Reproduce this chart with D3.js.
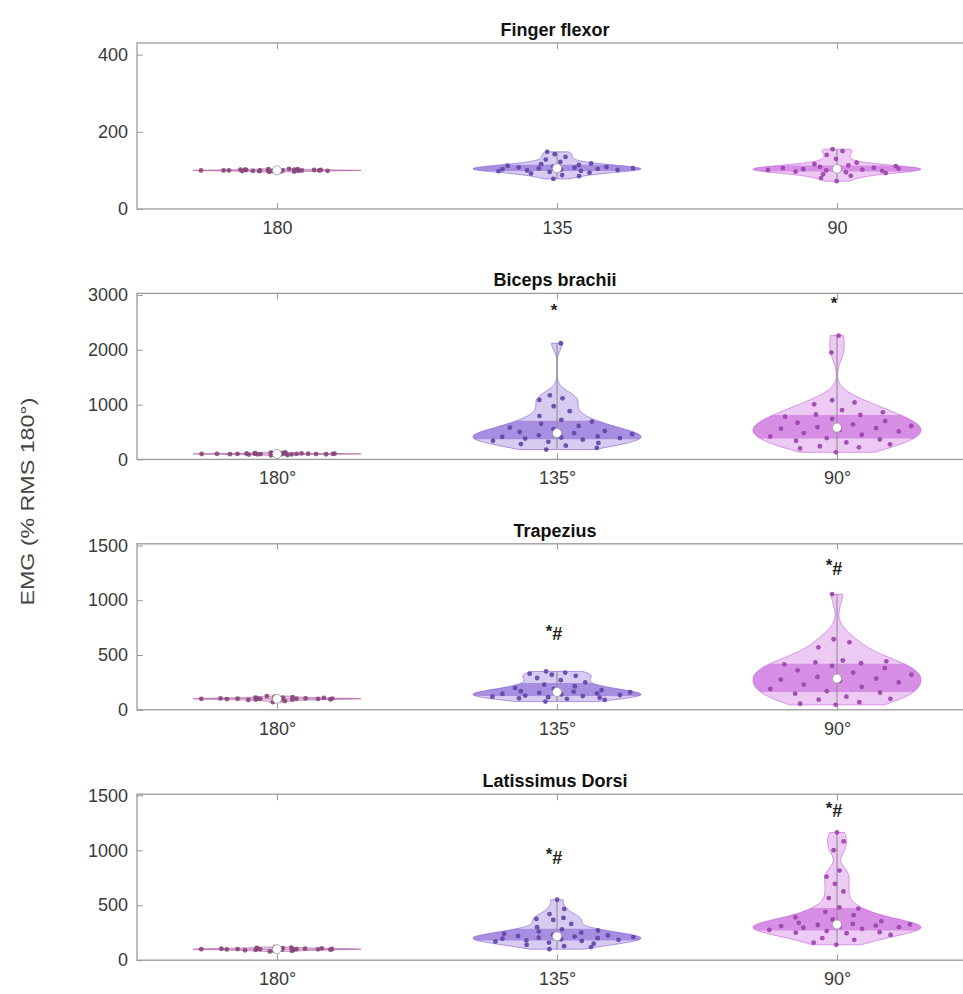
<!DOCTYPE html>
<html><head><meta charset="utf-8">
<script src="https://cdn.jsdelivr.net/npm/d3@7/dist/d3.min.js"></script>
<style>
 body{margin:0;background:#fff;}
 text{font-family:"Liberation Sans",Arial,Helvetica,sans-serif;}
</style></head>
<body><svg id="chart" width="963" height="994"></svg>
<script>
// ---------------- DATA ----------------
const categories = ["180", "135", "90"];
const panelTitles = ["Finger flexor", "Biceps brachii", "Trapezius", "Latissimus Dorsi"];
const xTickLabels = [["180", "135", "90"], ["180°", "135°", "90°"], ["180°", "135°", "90°"], ["180°", "135°", "90°"]];
const yMax = [430, 3030, 1515, 1510];
const yTicks = [[0, 200, 400], [0, 1000, 2000, 3000], [0, 500, 1000, 1500], [0, 500, 1000, 1500]];
const yLabel = "EMG (% RMS 180°)";

const finger180 = [96, 97, 98, 98, 99, 99, 99, 100, 100, 100, 100, 100, 100, 101, 101, 101, 102, 102, 103, 104, 97, 100, 101, 99, 102, 100, 98, 103];
const finger135 = [78, 85, 88, 92, 94, 96, 98, 99, 100, 101, 102, 103, 104, 105, 106, 107, 108, 109, 110, 112, 114, 116, 118, 122, 128, 135, 142, 148];
const finger90  = [72, 80, 86, 90, 93, 95, 97, 99, 100, 101, 102, 103, 104, 105, 106, 107, 109, 111, 113, 116, 120, 130, 140, 150, 155];

const biceps180 = [75, 80, 85, 88, 90, 92, 94, 95, 96, 97, 98, 99, 100, 100, 100, 101, 102, 103, 104, 105, 106, 108, 110, 112, 115, 120, 125, 130];
const biceps135 = [180, 210, 250, 280, 300, 320, 340, 360, 380, 390, 400, 410, 420, 440, 460, 480, 500, 520, 550, 580, 610, 650, 690, 720, 790, 880, 970, 1085, 1115, 1170, 2120];
const biceps90  = [130, 200, 220, 240, 275, 310, 340, 365, 390, 420, 450, 480, 510, 540, 560, 570, 590, 610, 640, 670, 700, 740, 780, 810, 820, 860, 900, 1005, 1040, 1080, 1950, 2260];

const trap180 = [70, 80, 85, 90, 92, 94, 96, 97, 98, 99, 100, 100, 100, 101, 102, 103, 104, 105, 106, 108, 110, 112, 115, 120, 125];
const trap135 = [75, 90, 100, 105, 110, 115, 120, 125, 130, 135, 140, 145, 150, 155, 160, 165, 170, 180, 190, 200, 215, 230, 250, 270, 290, 310, 320, 330, 340, 350];
const trap90  = [45, 55, 70, 92, 100, 120, 147, 156, 170, 190, 210, 230, 250, 265, 276, 285, 300, 320, 340, 360, 380, 400, 415, 425, 432, 442, 450, 570, 616, 644, 1055];

const lat180 = [80, 85, 88, 90, 92, 94, 96, 97, 98, 99, 100, 100, 100, 101, 102, 103, 104, 105, 106, 108, 110, 112, 115, 120];
const lat135 = [100, 119, 128, 140, 150, 160, 170, 175, 180, 185, 190, 195, 200, 205, 210, 215, 220, 225, 230, 240, 250, 260, 270, 280, 300, 330, 366, 375, 385, 420, 466, 550];
const lat90  = [140, 160, 185, 200, 230, 245, 250, 255, 265, 275, 285, 295, 300, 305, 310, 315, 320, 325, 330, 340, 355, 370, 390, 410, 440, 470, 480, 565, 625, 695, 760, 815, 1000, 1080, 1162];

const panelData = [
  [finger180, finger135, finger90],
  [biceps180, biceps135, biceps90],
  [trap180, trap135, trap90],
  [lat180, lat135, lat90]
];

// significance annotations: [panel][category] text and the value where they sit
const annotText  = [["", "", ""], ["", "*", "*"], ["", "*#", "*#"], ["", "*#", "*#"]];
const annotValue = [[0, 0, 0], [0, 2650, 2780], [0, 680, 1280], [0, 925, 1345]];

// ---------------- STYLE / LAYOUT ----------------
const colors = ["#a8559a", "#7a52cf", "#c151d8"];
const axLeft = 137, axRight = 977, axH = 166, axTop0 = 43, axStep = 250.4;
const halfWidth = 0.3;

const svg = d3.select("#chart");
const x = d3.scaleLinear().domain([0.5, 3.5]).range([axLeft, axRight]);

function gauss(u){ return Math.exp(-0.5*u*u)/Math.sqrt(2*Math.PI); }
function kdeAt(vals, bw, y){ return d3.mean(vals, v => gauss((y - v)/bw))/bw; }

panelData.forEach((groups, p) => {
  const top = axTop0 + p*axStep, bottom = top + axH;
  const y = d3.scaleLinear().domain([0, yMax[p]]).range([bottom, top]);
  const g = svg.append("g");

  g.append("rect").attr("x", axLeft).attr("y", top).attr("width", axRight - axLeft).attr("height", axH)
    .attr("fill", "none").attr("stroke", "#9a9a9a").attr("stroke-width", 1.3);

  const yAx = g.append("g").attr("transform", `translate(${axLeft},0)`)
    .call(d3.axisLeft(y).tickValues(yTicks[p]).tickSize(-6).tickPadding(9).tickFormat(d3.format("d")));
  const xAx = g.append("g").attr("transform", `translate(0,${bottom})`)
    .call(d3.axisBottom(x).tickValues([1, 2, 3]).tickSize(-6).tickPadding(12).tickFormat((d, i) => xTickLabels[p][i]));
  const xTop = g.append("g").attr("transform", `translate(0,${top})`)
    .call(d3.axisTop(x).tickValues([1, 2, 3]).tickSize(-6).tickFormat(""));
  [yAx, xAx, xTop].forEach(a => {
    a.select(".domain").remove();
    a.selectAll(".tick line").attr("stroke", "#9a9a9a").attr("stroke-width", 1);
    a.selectAll(".tick text").attr("fill", "#3a3a3a").style("font-size", "18px");
  });

  g.append("text").attr("x", (axLeft + axRight)/2 - 2).attr("y", top - 7)
    .attr("text-anchor", "middle").style("font-size", "18px").style("font-weight", "bold")
    .attr("fill", "#111").text(panelTitles[p]);

  const clipId = "clip" + p;
  g.append("clipPath").attr("id", clipId).append("rect")
    .attr("x", axLeft).attr("y", top).attr("width", axRight - axLeft).attr("height", axH);
  const vg = g.append("g").attr("clip-path", `url(#${clipId})`);

  groups.forEach((vals, ci) => {
    const c = ci + 1;
    const col = colors[ci];
    const sorted = vals.slice().sort(d3.ascending);
    const n = sorted.length;
    const med = d3.median(sorted);
    const mad = d3.median(sorted.map(v => Math.abs(v - med)));
    let bw = (mad/0.6745)*Math.pow(4/(3*n), 0.2);
    if (!(bw > 0)) bw = (sorted[n-1] - sorted[0])/10 || 1;
    const lo = sorted[0], hi = sorted[n-1];
    const grid = d3.range(0, 121).map(i => lo + (hi - lo)*i/120);
    const dens = grid.map(v => kdeAt(sorted, bw, v));
    const dmax = d3.max(dens);
    const wAt = v => kdeAt(sorted, bw, v)/dmax*halfWidth;
    const pts = grid.map((v, i) => ({v, w: dens[i]/dmax*halfWidth}));

    const violinPath = d => {
      const left = d.map(q => [x(c - q.w), y(q.v)]);
      const right = d.slice().reverse().map(q => [x(c + q.w), y(q.v)]);
      return "M" + left.concat(right).map(q => q.join(",")).join("L") + "Z";
    };

    vg.append("path").attr("d", violinPath(pts))
      .attr("fill", col).attr("fill-opacity", 0.3)
      .attr("stroke", col).attr("stroke-opacity", 0.55).attr("stroke-width", 1);

    const q1 = d3.quantile(sorted, 0.25), q3 = d3.quantile(sorted, 0.75);
    const band = [{v: q1, w: wAt(q1)}].concat(pts.filter(q => q.v > q1 && q.v < q3)).concat([{v: q3, w: wAt(q3)}]);
    vg.append("path").attr("d", violinPath(band))
      .attr("fill", col).attr("fill-opacity", 0.5).attr("stroke", "none");

    vg.append("line").attr("x1", x(c)).attr("x2", x(c)).attr("y1", y(lo)).attr("y2", y(hi))
      .attr("stroke", "#8a8a8a").attr("stroke-width", 1);

    vg.selectAll(null).data(vals).enter().append("circle")
      .attr("cx", (v, i) => {
        const j = ((i*0.6180339887 + 0.137*ci + 0.21) % 1)*2 - 1;
        return x(c + j*0.92*wAt(v));
      })
      .attr("cy", v => y(v)).attr("r", 2.4)
      .attr("fill", d3.color(col).darker(0.6)).attr("fill-opacity", 0.9);

    vg.append("circle").attr("cx", x(c)).attr("cy", y(med)).attr("r", 4.5)
      .attr("fill", "#fff").attr("stroke", "#999").attr("stroke-width", 0.8);

    const t = annotText[p][ci];
    if (t) {
      const tx = g.append("text").attr("x", x(c) - 3).attr("y", y(annotValue[p][ci]))
        .attr("text-anchor", "middle").attr("dominant-baseline", "middle")
        .attr("fill", "#222").style("font-size", "18px").style("font-weight", "bold");
      tx.append("tspan").attr("dy", "-0.15em").style("font-size", "17px").text("*");
      if (t.length > 1) tx.append("tspan").attr("dy", "0.15em").text(t.slice(1));
    }
  });
});

svg.append("text").attr("transform", `translate(34,${(axTop0 + axTop0 + 3*axStep + axH)/2}) rotate(-90)`)
  .attr("text-anchor", "middle").style("font-size", "18px").attr("fill", "#444")
  .attr("textLength", 208).attr("lengthAdjust", "spacingAndGlyphs").text(yLabel);
</script></body></html>
